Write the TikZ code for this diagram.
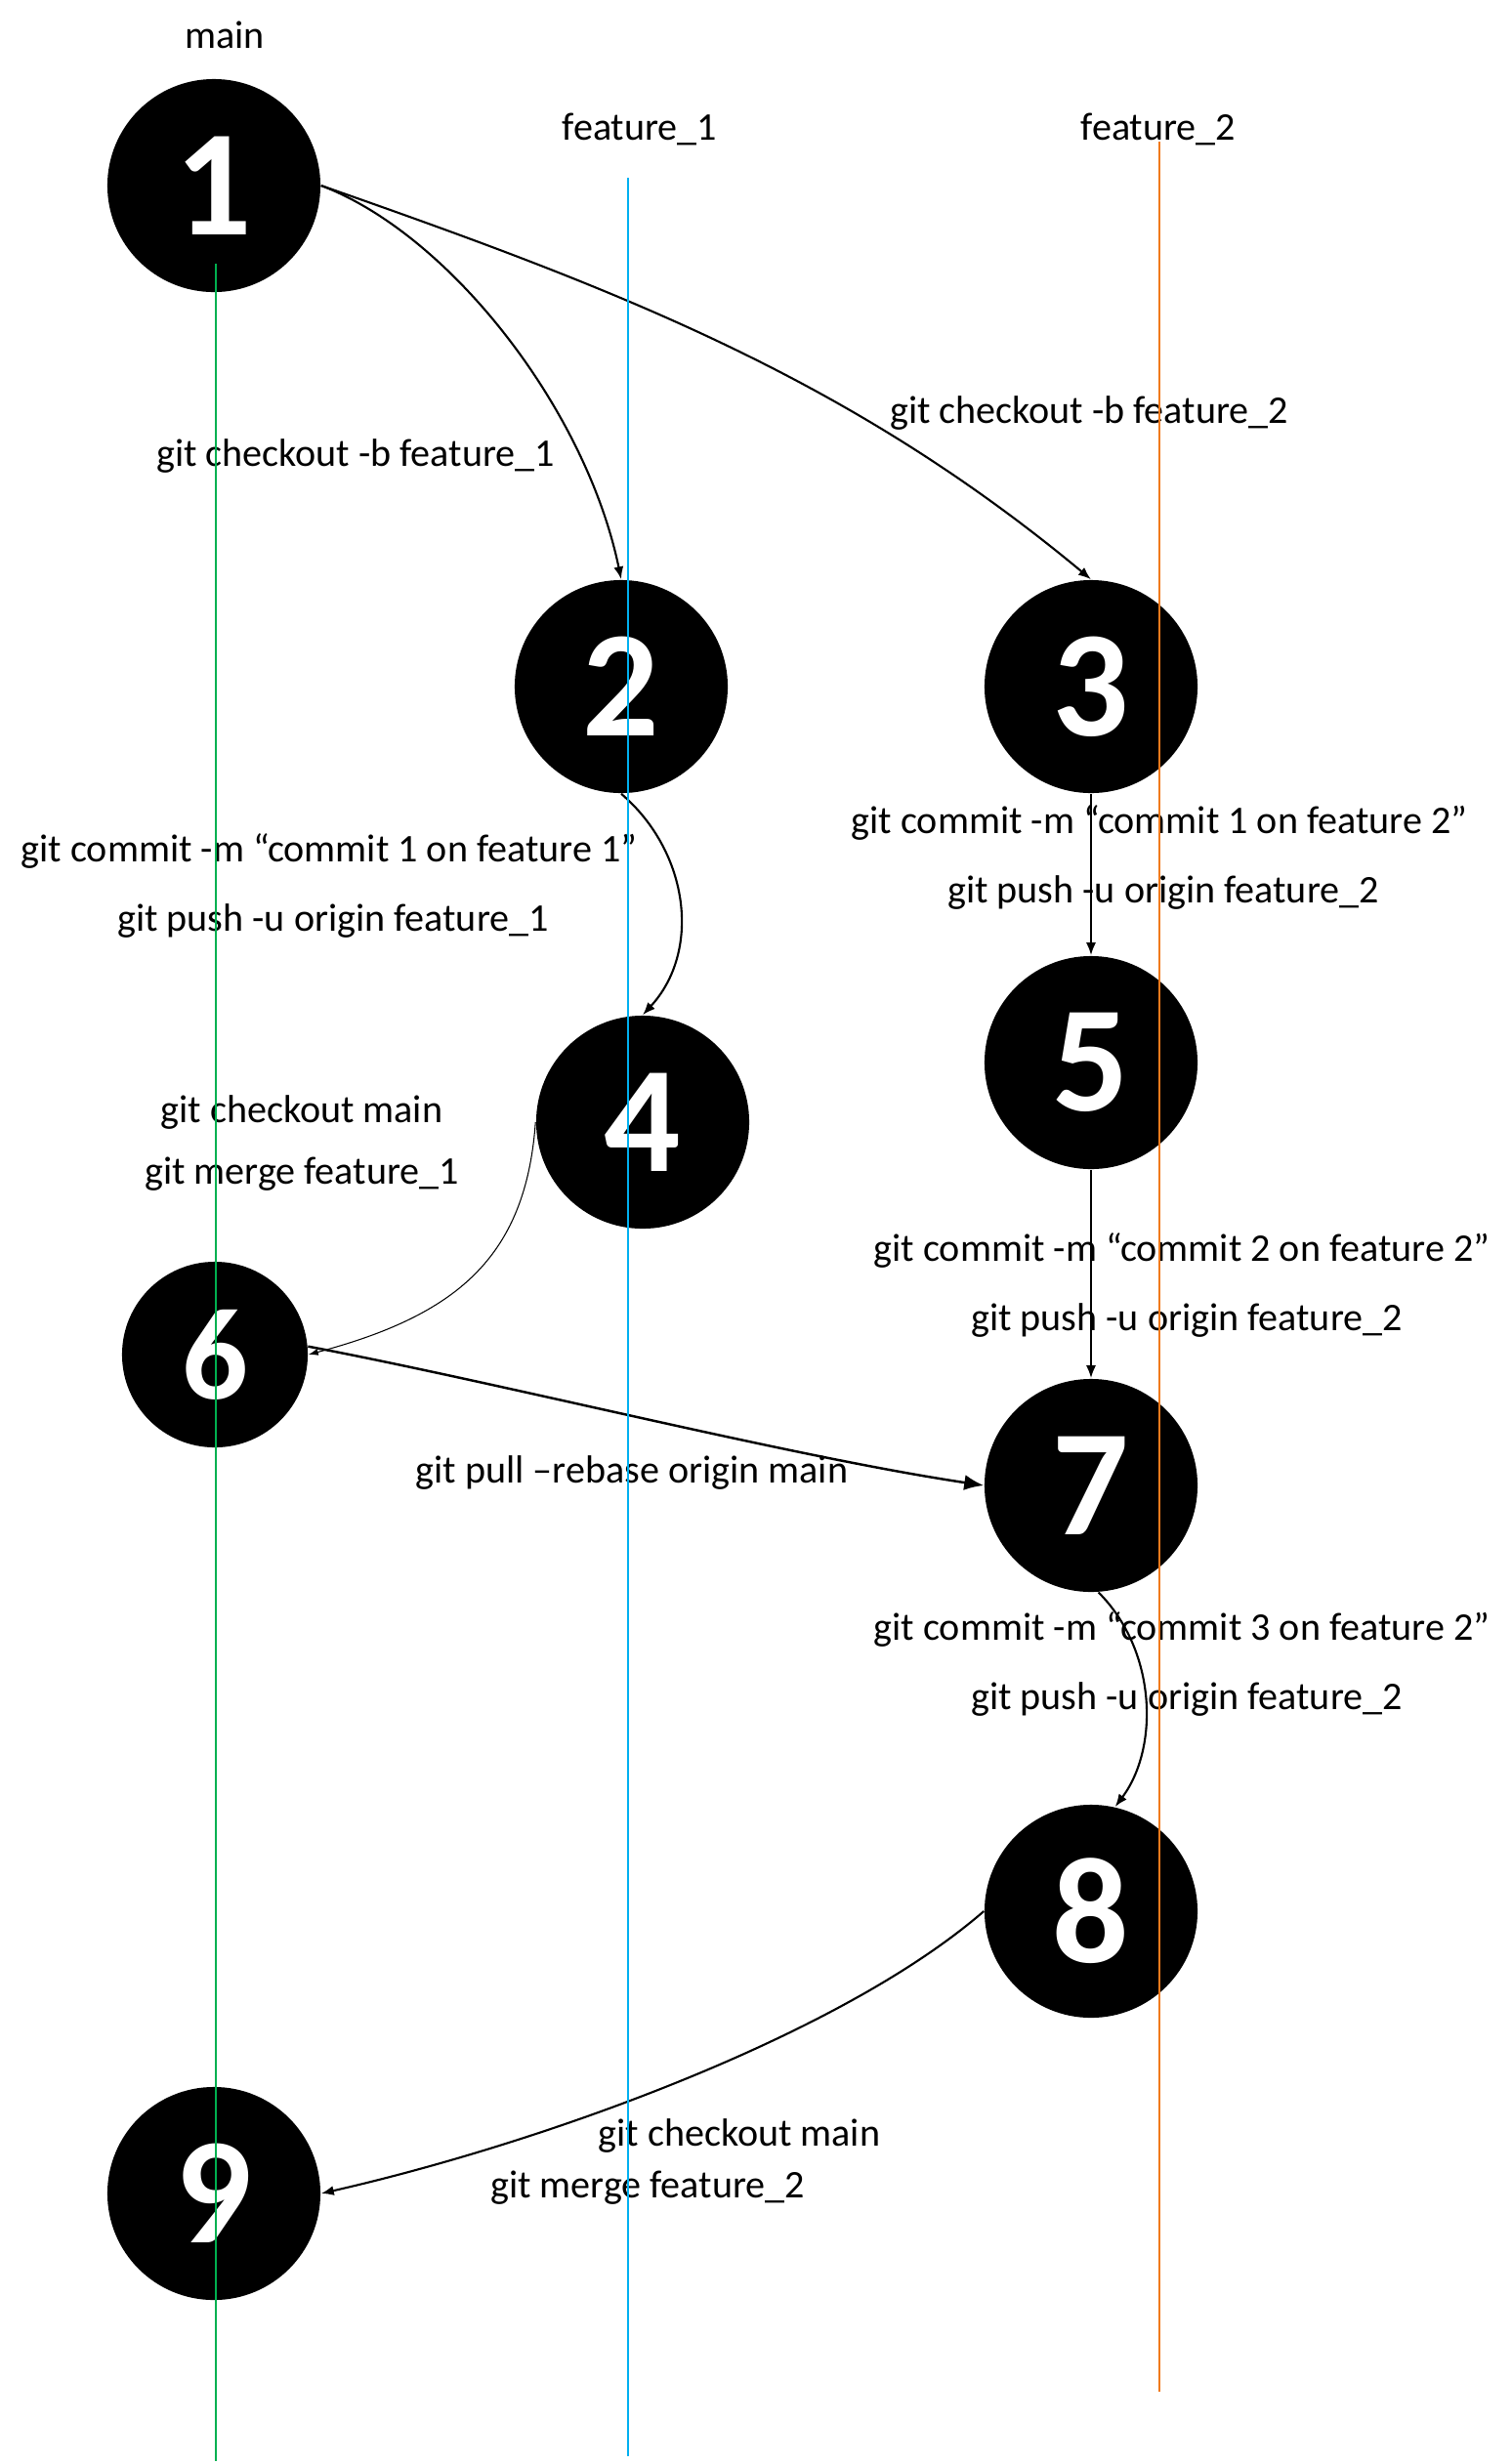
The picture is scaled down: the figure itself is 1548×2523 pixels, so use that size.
\documentclass[tikz,border=0pt]{standalone}
\usepackage{fontspec}
\setmainfont{Carlito}
\definecolor{mainbr}{RGB}{0,176,80}
\definecolor{featA}{RGB}{0,176,240}
\definecolor{featB}{RGB}{240,122,28}
\usetikzlibrary{arrows.meta}

\begin{document}
\begin{tikzpicture}[x=0.01cm,y=-0.01cm,
  commit/.style={circle,fill=black,text=white,inner sep=0pt,minimum size=2.18cm,font=\fontsize{44pt}{44pt}\selectfont\bfseries},
  cmd/.style={anchor=base,inner sep=0pt,font=\fontsize{11.4pt}{13pt}\selectfont},
  hop/.style={-{Latex[length=1.3mm,width=1mm]},line width=0.6pt},
  branch/.style={line width=0.7pt}]
\useasboundingbox (0,0) rectangle (1548,2523);
\node [commit] (c1) at (219,190) {1};
\node [commit] (c2) at (636,703) {2};
\node [commit] (c3) at (1117,703) {3};
\node [commit] (c4) at (658,1149) {4};
\node [commit] (c5) at (1117,1088) {5};
\node [commit,minimum size=1.9cm,font=\fontsize{38pt}{38pt}\selectfont\bfseries] (c6) at (220,1387) {6};
\node [commit] (c7) at (1117,1521) {7};
\node [commit] (c8) at (1117,1957) {8};
\node [commit] (c9) at (219,2246) {9};
\node [cmd] (bmain) at (230,49) {main};
\node [cmd] (bf1) at (655,143) {feature\_1};
\node [cmd] (bf2) at (1186,143) {feature\_2};
\node [cmd] (t12) at (364,477) {git checkout -b feature\_1};
\node [cmd] (t13) at (1115,433) {git checkout -b feature\_2};
\node [cmd] (t24a) at (337,882) {git commit -m “commit 1 on feature 1”};
\node [cmd] (t24b) at (341,953) {git push -u origin feature\_1};
\node [cmd] (t46a) at (309,1149) {git checkout main};
\node [cmd] (t46b) at (309,1212) {git merge feature\_1};
\node [cmd] (t35a) at (1187,853) {git commit -m “commit 1 on feature 2”};
\node [cmd] (t35b) at (1191,924) {git push -u origin feature\_2};
\node [cmd] (t57a) at (1210,1291) {git commit -m “commit 2 on feature 2”};
\node [cmd] (t57b) at (1215,1362) {git push -u origin feature\_2};
\node [cmd] (t67) at (647,1518) {git pull –rebase origin main};
\node [cmd] (t78a) at (1210,1679) {git commit -m “commit 3 on feature 2”};
\node [cmd] (t78b) at (1215,1750) {git push -u origin feature\_2};
\node [cmd] (t89a) at (757,2197) {git checkout main};
\node [cmd] (t89b) at (663,2250) {git merge feature\_2};
\coordinate (mtop) at (221,270);	\coordinate (mbot) at (221,2520);
\coordinate (atop) at (643,182);	\coordinate (abot) at (643,2515);
\coordinate (btop) at (1187,145);	\coordinate (bbot) at (1187,2449);
\draw [hop] (c1.east) .. controls +(132,50) and +(-36,-174) .. (c2.north);
\draw [hop] (c1.east) .. controls +(300,105) and +(-250,-208) .. (c3.north);
\draw [hop] (c2.south) .. controls +(70,60) and +(60,-65) .. (c4.north);
\draw [hop] (c3) -- (c5);
\draw [hop] (c5) -- (c7);
\draw [-{Latex[length=1mm,width=0.7mm]},line width=0.3pt] (c4.west) .. controls +(-10,140) and +(150,-40) .. (c6.east);
\draw [-{Latex[length=2mm,width=1.6mm]},line width=0.7pt] (c6.5) .. controls +(200,38) and +(-200,-30) .. (c7.west);
\draw [hop] (c7.-86) .. controls +(60,60) and +(45,-60) .. (c8.77);
\draw [hop] (c8.west) .. controls +(-150,130) and +(220,-50) .. (c9.east);
\draw [branch,mainbr] (mtop) -- (mbot);
\draw [branch,featA] (atop) -- (abot);
\draw [branch,featB] (btop) -- (bbot);
\end{tikzpicture}
\end{document}
